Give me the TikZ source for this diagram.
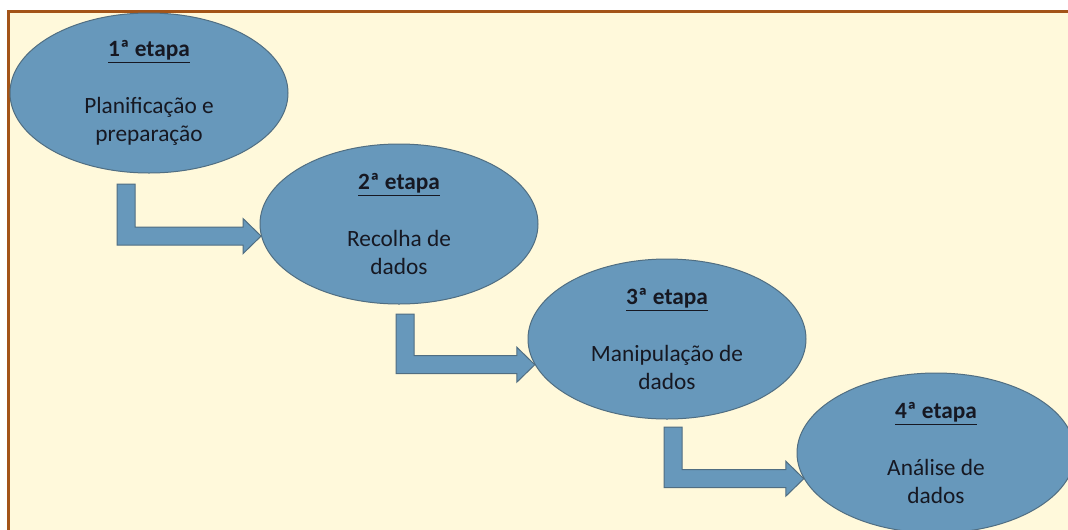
\documentclass[tikz,border=0pt]{standalone}
\usepackage{fontspec}
\setmainfont{Carlito}
\usetikzlibrary{shapes.geometric,calc}

\definecolor{slidepaper}{RGB}{255,249,219}
\definecolor{framebrown}{RGB}{163,84,24}
\definecolor{stagefill}{RGB}{103,152,187}
\definecolor{stageline}{RGB}{80,110,130}
\definecolor{ink}{RGB}{22,24,34}

\tikzset{
  stage/.style={ellipse, draw=stageline, fill=stagefill, line width=0.75pt,
    minimum width=208.5pt, minimum height=120pt, inner sep=1pt,
    align=center, text=ink, font={\fontsize{17.5}{21}\selectfont}},
  bentarrow/.style={draw=stageline, fill=stagefill, line width=0.75pt, line join=miter}
}

\newcommand\stagetext[3]{\underline{\textbf{#1}}\\[21.75pt]#2\\#3}
% bent block arrow: #1 top of the shaft, #2 tip
\newcommand\bentlink[2]{%
  \path[bentarrow] ($(#1)+(-9,0)$) -- ($(#1)+(9,0)$) -- ($(#1 |- #2)+(9,-9)$)
    -- ($(#2)+(-18,-9)$) -- ($(#2)+(-18,-17.5)$) -- (#2)
    -- ($(#2)+(-18,17.5)$) -- ($(#2)+(-18,9)$)
    -- ($(#1 |- #2)+(-9,9)$) -- cycle;}

\begin{document}
\begin{tikzpicture}[x=0.75pt,y=0.75pt,yscale=-1,xscale=1]
\useasboundingbox (0,0) rectangle (1068,529);

%Frame
\draw[framebrown, fill=slidepaper, line width=2.25pt] (8.5,11.5) rectangle (1090,545);

%Stages
\node[stage] (s1) at (149,93) {\stagetext{1ª etapa}{Planificação e}{preparação}};
\node[stage] (s2) at (399,224) {\stagetext{2ª etapa}{Recolha de}{dados}};
\node[stage] (s3) at (667,339) {\stagetext{3ª etapa}{Manipulação de}{dados}};
\node[stage] (s4) at (936,453) {\stagetext{4ª etapa}{Análise de}{dados}};

%Arrows
\coordinate (t1) at (126,184);
\coordinate (t2) at (405,314);
\coordinate (t3) at (673,427);
\bentlink{t1}{s2.185}
\bentlink{t2}{s3.191}
\bentlink{t3}{s4.191}

\end{tikzpicture}
\end{document}
